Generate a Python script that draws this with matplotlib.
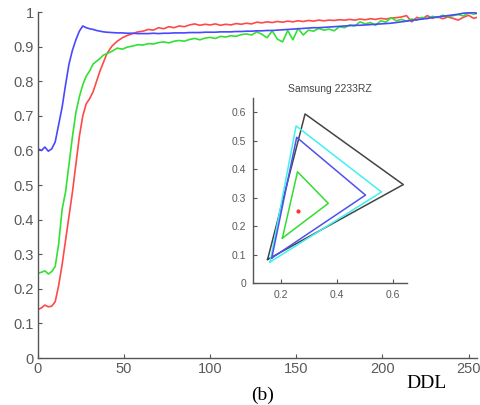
import numpy as np
import matplotlib
matplotlib.use('Agg')
import matplotlib.pyplot as plt

# main curves: x positions (dense on the rise, then every 3)
x_vals = list(range(0, 40, 2)) + list(range(40, 254, 3)) + [255]

blue_vals = [0.605, 0.600, 0.610, 0.598, 0.605, 0.625, 0.675, 0.725, 0.790, 0.850,
             0.890, 0.920, 0.945, 0.960, 0.955, 0.952, 0.950, 0.947, 0.945, 0.943,
             0.942, 0.941, 0.940, 0.940, 0.939, 0.939, 0.938, 0.938, 0.938, 0.939,
             0.938, 0.939, 0.939, 0.940, 0.940, 0.940, 0.941, 0.941, 0.941, 0.942,
             0.942, 0.942, 0.943, 0.943, 0.943, 0.944, 0.944, 0.945, 0.945, 0.946,
             0.946, 0.947, 0.947, 0.948, 0.949, 0.950, 0.951, 0.952, 0.953, 0.954,
             0.955, 0.955, 0.956, 0.957, 0.958, 0.959, 0.960, 0.961, 0.962, 0.962,
             0.963, 0.964, 0.965, 0.966, 0.967, 0.968, 0.970, 0.972, 0.974, 0.976,
             0.978, 0.980, 0.982, 0.984, 0.986, 0.988, 0.990, 0.992, 0.994, 0.997,
             0.998, 0.999, 0.996]

red_vals = [0.140, 0.145, 0.153, 0.148, 0.150, 0.163, 0.210, 0.270, 0.340, 0.410,
            0.480, 0.560, 0.640, 0.700, 0.735, 0.750, 0.770, 0.800, 0.830, 0.855,
            0.880, 0.902, 0.916, 0.926, 0.933, 0.938, 0.943, 0.945, 0.950, 0.948,
            0.955, 0.952, 0.958, 0.955, 0.960, 0.958, 0.963, 0.966, 0.962, 0.965,
            0.963, 0.966, 0.962, 0.965, 0.963, 0.967, 0.965, 0.968, 0.966, 0.971,
            0.969, 0.972, 0.970, 0.973, 0.971, 0.974, 0.972, 0.975, 0.973, 0.976,
            0.974, 0.977, 0.975, 0.977, 0.976, 0.978, 0.977, 0.979, 0.977, 0.980,
            0.978, 0.981, 0.979, 0.982, 0.980, 0.983, 0.984, 0.986, 0.990, 0.972,
            0.985, 0.980, 0.990, 0.983, 0.987, 0.981, 0.986, 0.982, 0.977, 0.985,
            0.991, 0.982, 0.985]

green_vals = [0.245, 0.248, 0.252, 0.243, 0.250, 0.265, 0.330, 0.430, 0.480, 0.560,
              0.640, 0.710, 0.755, 0.790, 0.815, 0.830, 0.850, 0.858, 0.866, 0.876,
              0.880, 0.887, 0.896, 0.893, 0.899, 0.902, 0.906, 0.905, 0.909, 0.908,
              0.912, 0.914, 0.911, 0.916, 0.918, 0.916, 0.921, 0.924, 0.920, 0.925,
              0.927, 0.924, 0.930, 0.928, 0.932, 0.930, 0.935, 0.937, 0.934, 0.943,
              0.936, 0.926, 0.946, 0.922, 0.914, 0.947, 0.920, 0.953, 0.934, 0.948,
              0.945, 0.953, 0.948, 0.951, 0.946, 0.958, 0.955, 0.963, 0.960, 0.972,
              0.966, 0.970, 0.962, 0.975, 0.971, 0.984, 0.975, 0.979, 0.974, 0.980,
              0.977, 0.985, 0.981, 0.988, 0.984, 0.991, 0.987, 0.990, 0.993, 0.989,
              0.998, 0.994, 0.997]

# inset gamut triangles (x, y chromaticity)
black_tri = [(0.152, 0.083), (0.286, 0.594), (0.637, 0.346)]
cyan_tri = [(0.161, 0.074), (0.254, 0.552), (0.559, 0.320)]
blue_tri = [(0.167, 0.088), (0.256, 0.512), (0.502, 0.309)]
green_tri = [(0.205, 0.158), (0.259, 0.391), (0.369, 0.280)]
white_pt = (0.259, 0.252)

TICK_COL = '#5a5a5a'
AX_COL = '#555555'


def style_axes(ax, fs, pad=3):
    for s in ['top', 'right']:
        ax.spines[s].set_visible(False)
    for s in ['left', 'bottom']:
        ax.spines[s].set_color(AX_COL)
        ax.spines[s].set_linewidth(1.0)
    ax.tick_params(direction='in', length=3, width=0.8, colors=AX_COL,
                   labelcolor=TICK_COL, labelsize=fs, pad=pad)


plt.rcParams['font.family'] = ['Liberation Sans', 'DejaVu Sans']

fig = plt.figure(figsize=(4.81, 4.05), dpi=100)
ax = fig.add_axes([0.079, 0.116, 0.913, 0.854])
ax.plot(x_vals, red_vals, color='#ff4848', lw=1.2)
ax.plot(x_vals, green_vals, color='#33e033', lw=1.2)
ax.plot(x_vals, blue_vals, color='#4848ff', lw=1.2)
ax.set_xlim(0, 255)
ax.set_ylim(0, 1)
ax.set_xticks([0, 50, 100, 150, 200, 250])
ax.set_yticks(np.round(np.arange(0, 1.01, 0.1), 1))
ax.set_yticklabels(['0', '0.1', '0.2', '0.3', '0.4', '0.5', '0.6', '0.7', '0.8', '0.9', '1'])
style_axes(ax, 10.5)

ins = fig.add_axes([0.526, 0.301, 0.320, 0.457])
for tri, col in [(black_tri, '#444444'), (cyan_tri, '#40f0f0'),
                 (blue_tri, '#5050ee'), (green_tri, '#33dd33')]:
    xs = [p[0] for p in tri] + [tri[0][0]]
    ys = [p[1] for p in tri] + [tri[0][1]]
    ins.plot(xs, ys, color=col, lw=1.1)
ins.plot([white_pt[0]], [white_pt[1]], marker='o', ms=2, color='#ff3030')
ins.set_xlim(0.1, 0.65)
ins.set_ylim(0, 0.65)
ins.set_xticks([0.2, 0.4, 0.6])
ins.set_yticks([0, 0.1, 0.2, 0.3, 0.4, 0.5, 0.6])
ins.set_yticklabels(['0', '0.1', '0.2', '0.3', '0.4', '0.5', '0.6'])
ins.set_facecolor('none')
style_axes(ins, 7.5, pad=5)
ins.set_title('Samsung 2233RZ', fontsize=7.5, color='#444444', pad=4)

fig.text(0.886, 0.054, 'DDL', family='Liberation Serif', fontsize=14,
         ha='center', va='center', color='black')
fig.text(0.545, 0.002, '(b)', family='Liberation Serif', fontsize=14,
         ha='center', va='bottom', color='black')

fig.savefig('out.png', dpi=100)
